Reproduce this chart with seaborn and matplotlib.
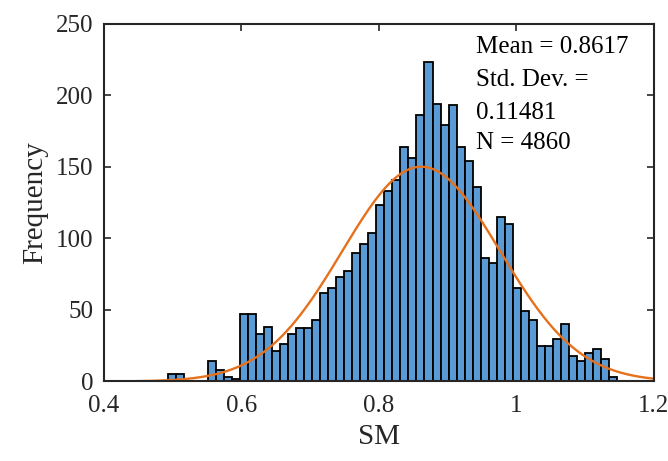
import numpy as np
import pandas as pd
import matplotlib
matplotlib.use("Agg")
import matplotlib.pyplot as plt
import seaborn as sns

# ---- data ----
bin_start = 0.4934
bin_width = 0.011658
counts = [5, 5, 0, 0, 0, 14, 8, 3, 2, 47,
          47, 33, 38, 21, 26, 33, 37, 37, 43, 62,
          65, 73, 77, 90, 96, 104, 123, 133, 141, 164,
          156, 186, 223, 194, 179, 193, 164, 154, 136, 86,
          83, 115, 110, 65, 49, 43, 25, 25, 30, 40,
          18, 14, 20, 23, 16, 3]
fit_mean = 0.8617
fit_std = 0.11481
fit_peak = 150.0
n_total = 4860
x_ticks = [0.4, 0.6, 0.8, 1.0, 1.2]
x_tick_labels = ["0.4", "0.6", "0.8", "1", "1.2"]
y_ticks = [0, 50, 100, 150, 200, 250]
stats_lines = ["Mean = 0.8617", "Std. Dev. =", "0.11481", "N = 4860"]

n_bins = len(counts)
bin_end = bin_start + bin_width * n_bins
centers = bin_start + bin_width * (np.arange(n_bins) + 0.5)
df = pd.DataFrame({"SM": centers, "count": counts})

sns.set_theme(style="ticks")
plt.rcParams["font.family"] = ["Liberation Serif", "DejaVu Serif"]
plt.rcParams["axes.edgecolor"] = "#262626"

fig = plt.figure(figsize=(6.68, 4.61), dpi=100)
ax = fig.add_axes([0.155, 0.1725, 0.824, 0.7765])

sns.histplot(data=df, x="SM", weights="count", bins=n_bins,
             binrange=(bin_start, bin_end), ax=ax,
             color="#5B9BD5", alpha=1.0, edgecolor="black", linewidth=1.3)

xs = np.linspace(0.4, 1.2, 400)
ys = fit_peak * np.exp(-0.5 * ((xs - fit_mean) / fit_std) ** 2)
sns.lineplot(x=xs, y=ys, ax=ax, color="#E6711C", linewidth=1.7)

ax.set_xlim(0.4, 1.2)
ax.set_ylim(0, 250)
ax.set_xticks(x_ticks)
ax.set_xticklabels(x_tick_labels)
ax.set_yticks(y_ticks)
ax.tick_params(direction="in", length=5, width=1.2, top=True, right=True,
               labelsize=18, colors="#262626")
ax.tick_params(axis="x", pad=10)
ax.tick_params(axis="y", pad=7)
for s in ax.spines.values():
    s.set_visible(True)
    s.set_linewidth(1.5)
    s.set_color("#262626")

ax.set_xlabel("SM", fontsize=21, color="#262626", labelpad=5)
ax.set_ylabel("Frequency", fontsize=21, color="#262626", labelpad=6)

ypos = [0.934, 0.842, 0.750, 0.666]
for t, yp in zip(stats_lines, ypos):
    ax.text(0.677, yp, t, transform=ax.transAxes, fontsize=18,
            ha="left", va="center", color="black")

fig.savefig("out.png", dpi=100)
